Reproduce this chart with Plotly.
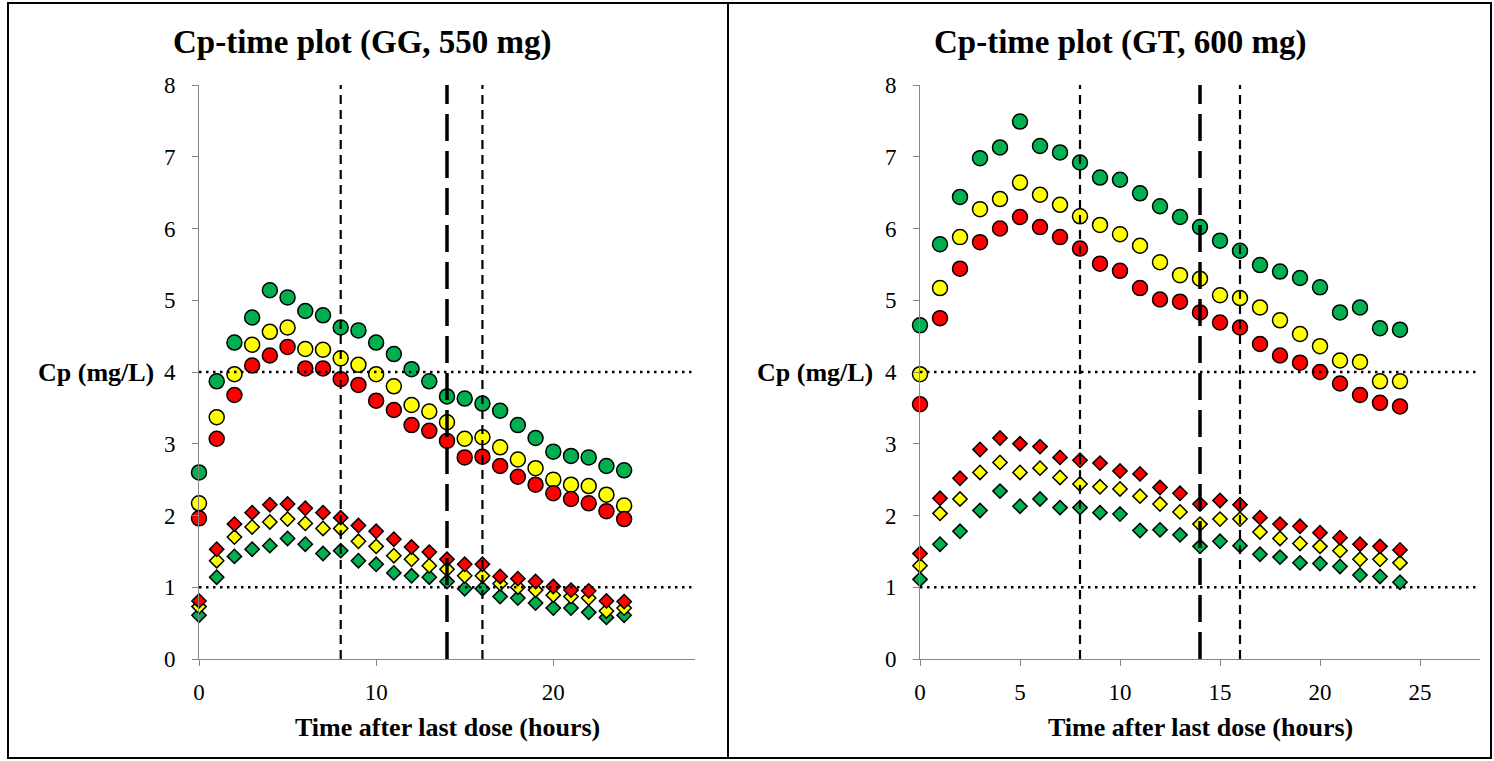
import plotly.graph_objects as go

W, H = 1494, 761

time_h = list(range(25))

# GG, 550 mg (left)
gg_green_c = [2.60, 3.87, 4.41, 4.76, 5.14, 5.04, 4.85, 4.79, 4.62, 4.58, 4.41, 4.25, 4.04, 3.87, 3.66, 3.63, 3.56, 3.46, 3.26, 3.08, 2.89, 2.83, 2.81, 2.69, 2.63]
gg_yellow_c = [2.17, 3.37, 3.97, 4.38, 4.56, 4.62, 4.32, 4.31, 4.19, 4.10, 3.97, 3.80, 3.54, 3.45, 3.30, 3.07, 3.09, 2.95, 2.78, 2.66, 2.50, 2.43, 2.41, 2.29, 2.14]
gg_red_c = [1.96, 3.07, 3.68, 4.09, 4.23, 4.35, 4.05, 4.05, 3.90, 3.82, 3.60, 3.47, 3.26, 3.18, 3.04, 2.81, 2.82, 2.69, 2.54, 2.43, 2.31, 2.23, 2.17, 2.06, 1.95]
gg_red_d = [0.81, 1.53, 1.88, 2.04, 2.15, 2.16, 2.10, 2.04, 1.97, 1.86, 1.78, 1.67, 1.56, 1.49, 1.39, 1.32, 1.32, 1.15, 1.12, 1.08, 1.01, 0.96, 0.95, 0.81, 0.80]
gg_yellow_d = [0.73, 1.37, 1.70, 1.84, 1.91, 1.95, 1.89, 1.82, 1.82, 1.64, 1.57, 1.44, 1.39, 1.30, 1.25, 1.16, 1.16, 1.05, 1.00, 0.96, 0.89, 0.87, 0.85, 0.67, 0.71]
gg_green_d = [0.61, 1.14, 1.43, 1.53, 1.58, 1.68, 1.60, 1.47, 1.51, 1.37, 1.32, 1.20, 1.16, 1.14, 1.08, 0.98, 0.98, 0.87, 0.85, 0.78, 0.71, 0.71, 0.65, 0.58, 0.61]

# GT, 600 mg (right)
gt_green_c = [4.65, 5.78, 6.44, 6.98, 7.13, 7.49, 7.15, 7.06, 6.92, 6.71, 6.68, 6.49, 6.31, 6.16, 6.02, 5.83, 5.69, 5.49, 5.40, 5.31, 5.18, 4.83, 4.90, 4.61, 4.59]
gt_yellow_c = [3.97, 5.17, 5.88, 6.27, 6.41, 6.64, 6.47, 6.33, 6.17, 6.05, 5.92, 5.76, 5.53, 5.35, 5.30, 5.07, 5.03, 4.90, 4.72, 4.53, 4.36, 4.16, 4.14, 3.87, 3.87]
gt_red_c = [3.55, 4.75, 5.44, 5.81, 6.00, 6.16, 6.02, 5.88, 5.72, 5.51, 5.41, 5.17, 5.01, 4.98, 4.83, 4.69, 4.62, 4.39, 4.23, 4.13, 4.00, 3.84, 3.68, 3.57, 3.52]
gt_red_d = [1.47, 2.24, 2.52, 2.92, 3.08, 3.00, 2.96, 2.81, 2.77, 2.73, 2.62, 2.58, 2.39, 2.31, 2.16, 2.21, 2.15, 1.97, 1.88, 1.85, 1.76, 1.69, 1.60, 1.57, 1.52]
gt_yellow_d = [1.30, 2.03, 2.23, 2.60, 2.74, 2.60, 2.66, 2.53, 2.44, 2.40, 2.37, 2.27, 2.16, 2.05, 1.88, 1.95, 1.95, 1.77, 1.68, 1.61, 1.57, 1.51, 1.39, 1.39, 1.34]
gt_green_d = [1.11, 1.60, 1.78, 2.07, 2.34, 2.13, 2.23, 2.11, 2.11, 2.04, 2.02, 1.79, 1.80, 1.73, 1.57, 1.64, 1.58, 1.46, 1.42, 1.34, 1.33, 1.29, 1.17, 1.15, 1.07]

titles = ["Cp-time plot (GG, 550 mg)", "Cp-time plot (GT, 600 mg)"]
x_title = "Time after last dose (hours)"
y_title = "Cp (mg/L)"
hlines = [1, 4]
short_vlines = [8, 16]
long_vline = 14

GREEN, YELLOW, RED = "#00B050", "#FFFF00", "#FF0000"
FONT = "Liberation Serif"

def px_x(p):
    return p / W

def px_y(p):
    return 1 - p / H

fig = go.Figure()

panels = [
    dict(xa="x", ya="y", circ=[(gg_green_c, GREEN), (gg_yellow_c, YELLOW), (gg_red_c, RED)],
         dia=[(gg_green_d, GREEN), (gg_yellow_d, YELLOW), (gg_red_d, RED)]),
    dict(xa="x2", ya="y2", circ=[(gt_green_c, GREEN), (gt_yellow_c, YELLOW), (gt_red_c, RED)],
         dia=[(gt_green_d, GREEN), (gt_yellow_d, YELLOW), (gt_red_d, RED)]),
]

for p in panels:
    for vals, col in p["circ"]:
        fig.add_trace(go.Scatter(x=time_h, y=vals, mode="markers", xaxis=p["xa"], yaxis=p["ya"],
                                 cliponaxis=False, showlegend=False,
                                 marker=dict(symbol="circle", size=15, color=col,
                                             line=dict(color="black", width=1.5))))
    for vals, col in p["dia"]:
        fig.add_trace(go.Scatter(x=time_h, y=vals, mode="markers", xaxis=p["xa"], yaxis=p["ya"],
                                 cliponaxis=False, showlegend=False,
                                 marker=dict(symbol="diamond", size=11, color=col,
                                             line=dict(color="black", width=1.5))))

shapes = []
for xa, ya in [("x", "y"), ("x2", "y2")]:
    for h in hlines:
        shapes.append(dict(type="line", xref=xa, yref=ya, x0=0, x1=28, y0=h, y1=h, layer="above",
                           line=dict(color="black", width=2.5, dash="2.5px,4.5px")))
    for v in short_vlines:
        shapes.append(dict(type="line", xref=xa, yref=ya, x0=v, x1=v, y0=0, y1=8, layer="above",
                           line=dict(color="black", width=2.2, dash="9px,6px")))
    shapes.append(dict(type="line", xref=xa, yref=ya, x0=long_vline, x1=long_vline, y0=0, y1=8,
                       layer="above", line=dict(color="black", width=3.5, dash="27px,10px")))

# panel frames
shapes.append(dict(type="rect", xref="paper", yref="paper", x0=px_x(8), x1=px_x(728),
                   y0=px_y(758), y1=px_y(3), line=dict(color="black", width=2)))
shapes.append(dict(type="rect", xref="paper", yref="paper", x0=px_x(728), x1=px_x(1491),
                   y0=px_y(758), y1=px_y(3), line=dict(color="black", width=2)))

annotations = []
for cx, t in [(362, titles[0]), (1120, titles[1])]:
    annotations.append(dict(x=px_x(cx), y=px_y(43), xref="paper", yref="paper", text="<b>%s</b>" % t,
                            showarrow=False, xanchor="center", yanchor="middle",
                            font=dict(family=FONT, size=33, color="black")))
for rx in [156, 875]:
    annotations.append(dict(x=px_x(rx), y=px_y(372), xref="paper", yref="paper", text="<b>%s</b>" % y_title,
                            showarrow=False, xanchor="right", yanchor="middle",
                            font=dict(family=FONT, size=26, color="black")))
for cx in [447, 1200]:
    annotations.append(dict(x=px_x(cx), y=px_y(727), xref="paper", yref="paper", text="<b>%s</b>" % x_title,
                            showarrow=False, xanchor="center", yanchor="middle",
                            font=dict(family=FONT, size=26, color="black")))

axis_common = dict(showgrid=False, zeroline=False, showline=True, linecolor="#868686", linewidth=1,
                   ticks="outside", ticklen=6, tickcolor="#868686",
                   tickfont=dict(family=FONT, size=23, color="black"))

y_dom = [px_y(659), px_y(85)]

fig.update_layout(
    autosize=True, margin=dict(l=0, r=0, t=0, b=0, autoexpand=False),
    paper_bgcolor="white", plot_bgcolor="white",
    xaxis=dict(domain=[px_x(199), px_x(695)], range=[0, 28], tickvals=[0, 10, 20],
               anchor="y", ticklabelstandoff=6, **axis_common),
    yaxis=dict(domain=y_dom, range=[0, 8], dtick=1, anchor="x", ticklabelstandoff=12, **axis_common),
    xaxis2=dict(domain=[px_x(920), px_x(1480)], range=[0, 28], tickvals=[0, 5, 10, 15, 20, 25],
                anchor="y2", ticklabelstandoff=6, **axis_common),
    yaxis2=dict(domain=y_dom, range=[0, 8], dtick=1, anchor="x2", ticklabelstandoff=12, **axis_common),
    shapes=shapes, annotations=annotations,
)

post = (
    "document.documentElement.style.height='100%';"
    "document.documentElement.style.margin='0';"
    "document.body.style.height='100%';"
    "document.body.style.margin='0';"
    "document.body.style.overflow='hidden';"
    "var gd=document.getElementById('{plot_id}');"
    "gd.parentElement.style.height='100%';"
    "gd.parentElement.style.width='100%';"
    "Plotly.Plots.resize(gd);"
)

fig.write_html("out.html", default_width="100%", default_height="100%",
               config={"displayModeBar": False, "responsive": True}, post_script=post)
